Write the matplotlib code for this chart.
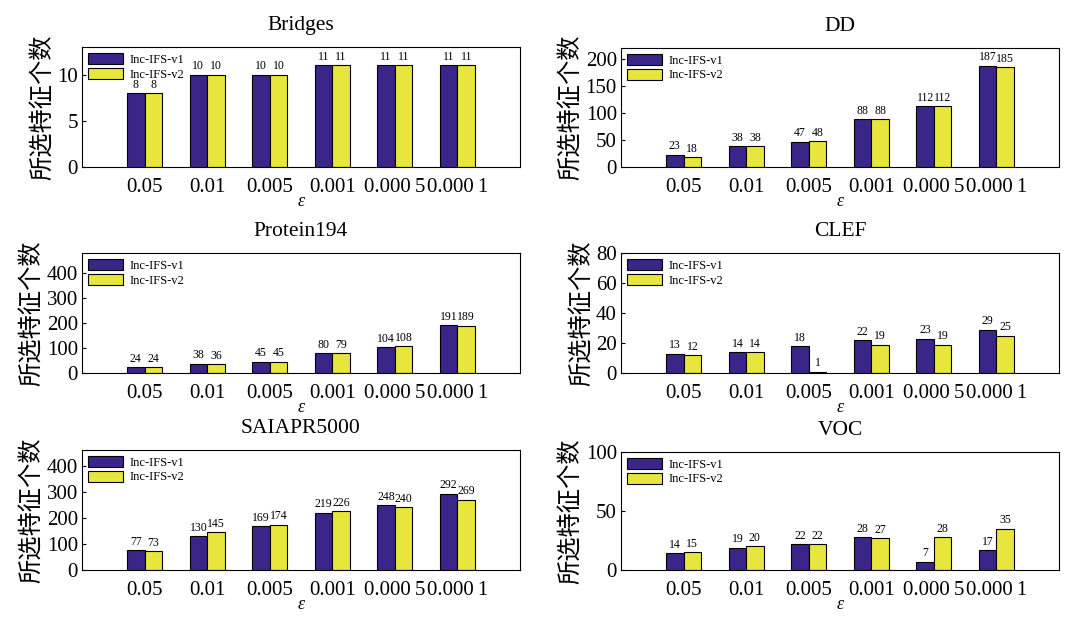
import numpy as np
import matplotlib
matplotlib.use("Agg")
from matplotlib import pyplot as plt

plt.rcParams['font.family'] = ['Liberation Serif', 'Noto Sans CJK SC', 'DejaVu Sans']

eps_labels = ['0.05', '0.01', '0.005', '0.001', '0.000\u20095', '0.000\u20091']
series_names = ['Inc-IFS-v1', 'Inc-IFS-v2']

datasets = ['Bridges', 'DD', 'Protein194', 'CLEF', 'SAIAPR5000', 'VOC']

bridges_v1 = [8, 10, 10, 11, 11, 11]
bridges_v2 = [8, 10, 10, 11, 11, 11]
dd_v1 = [23, 38, 47, 88, 112, 187]
dd_v2 = [18, 38, 48, 88, 112, 185]
protein_v1 = [24, 38, 45, 80, 104, 191]
protein_v2 = [24, 36, 45, 79, 108, 189]
clef_v1 = [13, 14, 18, 22, 23, 29]
clef_v2 = [12, 14, 1, 19, 19, 25]
saiapr_v1 = [77, 130, 169, 219, 248, 292]
saiapr_v2 = [73, 145, 174, 226, 240, 269]
voc_v1 = [14, 19, 22, 28, 7, 17]
voc_v2 = [15, 20, 22, 27, 28, 35]

v1_values = [bridges_v1, dd_v1, protein_v1, clef_v1, saiapr_v1, voc_v1]
v2_values = [bridges_v2, dd_v2, protein_v2, clef_v2, saiapr_v2, voc_v2]

y_limits = [13, 220, 480, 80, 460, 100]
y_ticks = [[0, 5, 10], [0, 50, 100, 150, 200], [0, 100, 200, 300, 400],
           [0, 20, 40, 60, 80], [0, 100, 200, 300, 400], [0, 50, 100]]

W, H = 1067, 620
# axes boxes in pixels: left, top, width, height
boxes = [(82, 47, 438, 120), (621, 48, 438, 119),
         (82, 253, 438, 120), (621, 253, 438, 120),
         (82, 450, 438, 120), (621, 452, 438, 118)]

c1 = '#3b2588'
c2 = '#e8e63c'

fig = plt.figure(figsize=(W / 100, H / 100), dpi=100)

for k in range(6):
    l, t, w, h = boxes[k]
    ax = fig.add_axes([l / W, (H - t - h) / H, w / W, h / H])
    x = np.arange(1, 7)
    bw = 0.28
    b1 = ax.bar(x - bw / 2, v1_values[k], bw, color=c1, edgecolor='black', linewidth=0.8, label=series_names[0])
    b2 = ax.bar(x + bw / 2, v2_values[k], bw, color=c2, edgecolor='black', linewidth=0.8, label=series_names[1])
    for bars in (b1, b2):
        for r in bars:
            ax.text(r.get_x() + r.get_width() / 2, r.get_height() + y_limits[k] * 0.02,
                    str(int(r.get_height())), ha='center', va='bottom', fontsize=8.5)
    ax.set_xlim(0, 7)
    ax.set_ylim(0, y_limits[k])
    ax.set_xticks(x)
    ax.set_xticklabels(eps_labels, fontsize=15)
    ax.set_yticks(y_ticks[k])
    ax.tick_params(axis='y', labelsize=15, direction='in', length=3, pad=3)
    ax.tick_params(axis='x', length=0, pad=8)
    ax.set_title(datasets[k], fontsize=15.5, pad=12)
    ax.set_ylabel('所选特征个数', fontsize=17.5, family=['Noto Sans CJK SC'], labelpad=1)
    ax.set_xlabel('ε', fontsize=13, fontstyle='italic', labelpad=-3)
    ax.legend(loc='upper left', fontsize=9, frameon=False, handlelength=2.8, handleheight=1.0,
              labelspacing=0.12, borderaxespad=0.1, handletextpad=0.5)

fig.savefig('out.png', dpi=100)
